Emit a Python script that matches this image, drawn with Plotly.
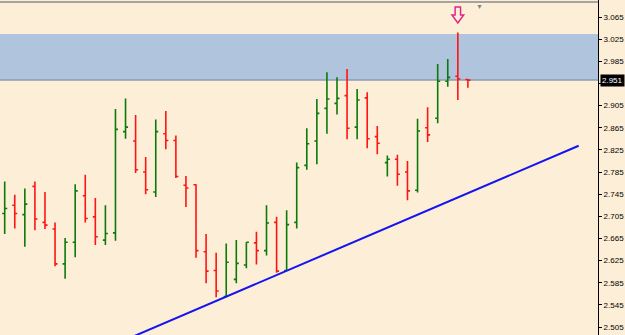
import plotly.graph_objects as go

# ---- data ----
opens = [2.710, 2.725, 2.708, 2.759, 2.694, 2.682, 2.619, 2.658, 2.742, 2.704,
         2.662, 2.675, 2.858, 2.841, 2.785, 2.749, 2.854, 2.842, 2.761, 2.762,
         2.641, 2.607, 2.560, 2.591, 2.617, 2.657, 2.643, 2.694, 2.607, 2.694,
         2.797, 2.841, 2.900, 2.909, 2.923, 2.866, 2.919, 2.849, 2.802, 2.808,
         2.785, 2.752, 2.865, 2.882, 2.949, 2.958, 2.952]
highs = [2.768, 2.744, 2.755, 2.768, 2.749, 2.694, 2.666, 2.763, 2.780, 2.738,
         2.725, 2.899, 2.918, 2.888, 2.812, 2.880, 2.895, 2.851, 2.778, 2.763,
         2.673, 2.639, 2.656, 2.662, 2.658, 2.677, 2.725, 2.704, 2.716, 2.802,
         2.864, 2.917, 2.965, 2.956, 2.971, 2.935, 2.929, 2.868, 2.815, 2.816,
         2.805, 2.881, 2.902, 2.980, 2.989, 3.037, 2.953]
lows = [2.673, 2.683, 2.650, 2.680, 2.682, 2.615, 2.592, 2.631, 2.694, 2.653,
        2.653, 2.661, 2.845, 2.783, 2.745, 2.740, 2.826, 2.774, 2.722, 2.630,
        2.584, 2.559, 2.559, 2.584, 2.611, 2.618, 2.634, 2.603, 2.606, 2.683,
        2.789, 2.799, 2.854, 2.889, 2.844, 2.844, 2.828, 2.817, 2.777, 2.760,
        2.734, 2.748, 2.839, 2.873, 2.939, 2.915, 2.937]
closes = [2.719, 2.710, 2.727, 2.700, 2.689, 2.619, 2.658, 2.751, 2.701, 2.668,
          2.674, 2.862, 2.866, 2.789, 2.753, 2.858, 2.842, 2.777, 2.756, 2.643,
          2.606, 2.570, 2.622, 2.620, 2.658, 2.643, 2.693, 2.606, 2.690, 2.793,
          2.836, 2.891, 2.917, 2.918, 2.864, 2.915, 2.845, 2.837, 2.808, 2.781,
          2.751, 2.859, 2.852, 2.949, 2.956, 2.953, 2.951]
bar_index = list(range(len(opens)))

y_ticks = [2.505, 2.545, 2.585, 2.625, 2.665, 2.705, 2.745, 2.785, 2.825,
           2.865, 2.905, 2.945, 2.985, 3.025, 3.065]
y_range = [2.4906, 3.0957]
x_range = [-0.467, 58.92]

zone_top, zone_bottom = 3.0343, 2.951
trend_x = [10.0, 57.0]
trend_y = [2.4664, 2.8325]
last_price = 2.951
arrow_bar, arrow_top, arrow_tip = 45, 3.0831, 3.0542

BG = "#fdeed7"

fig = go.Figure()

fig.add_trace(go.Ohlc(
    x=bar_index, open=opens, high=highs, low=lows, close=closes,
    increasing=dict(line=dict(color="#0a7a0a", width=1.6)),
    decreasing=dict(line=dict(color="#ff1414", width=1.6)),
    tickwidth=0.25, showlegend=False, hoverinfo="skip"))

fig.add_trace(go.Scatter(
    x=trend_x, y=trend_y, mode="lines",
    line=dict(color="#1414f0", width=2), showlegend=False, hoverinfo="skip"))

# supply zone
fig.add_shape(type="rect", xref="paper", x0=0, x1=1, yref="y",
              y0=zone_bottom, y1=zone_top, fillcolor="#b1c4de",
              line=dict(width=0), layer="below")
fig.add_shape(type="line", xref="paper", x0=0, x1=1, yref="y",
              y0=zone_bottom, y1=zone_bottom,
              line=dict(color="#8b9bb3", width=1.5), layer="below")

# top border line
fig.add_shape(type="line", xref="paper", x0=0, x1=1, yref="paper",
              y0=1 - 2 / 335, y1=1 - 2 / 335,
              line=dict(color="#8a8a8a", width=1.5))

# hollow down arrow above the spike bar
head_y = arrow_tip + (arrow_top - arrow_tip) * 0.5
sw, hw = 0.27, 0.58
a = arrow_bar
path = (f"M {a - sw} {arrow_top} L {a + sw} {arrow_top} L {a + sw} {head_y} "
        f"L {a + hw} {head_y} L {a} {arrow_tip} L {a - hw} {head_y} "
        f"L {a - sw} {head_y} Z")
fig.add_shape(type="path", xref="x", yref="y", path=path,
              line=dict(color="#e0288c", width=1.5), fillcolor=BG)

# small marker triangle at top
fig.add_annotation(xref="x", yref="paper", x=47.2, y=1, text="▼",
                   showarrow=False, font=dict(size=7, color="#7d8590"),
                   yanchor="top", xanchor="center")

# last price label
fig.add_annotation(xref="paper", yref="y", x=1.0, y=last_price,
                   text=f"{last_price:.3f}", showarrow=False,
                   xanchor="left", xshift=2, bgcolor="#000000",
                   font=dict(family="Liberation Sans", size=8, color="#ffffff"),
                   borderpad=1)

fig.update_layout(
    width=625, height=335,
    margin=dict(l=0, r=27, t=0, b=0),
    paper_bgcolor=BG, plot_bgcolor=BG,
    xaxis=dict(range=x_range, showgrid=False, zeroline=False,
               showticklabels=False, ticks="", rangeslider=dict(visible=False),
               fixedrange=True),
    yaxis=dict(range=y_range, side="right", showgrid=False, zeroline=False,
               tickvals=y_ticks, ticktext=[f"{v:.3f}" for v in y_ticks],
               ticks="outside", ticklen=3, tickcolor="#000000",
               showline=True, linecolor="#000000", linewidth=1,
               tickfont=dict(family="Liberation Sans", size=8, color="#000000"),
               fixedrange=True),
)

fig.write_html("out.html")
